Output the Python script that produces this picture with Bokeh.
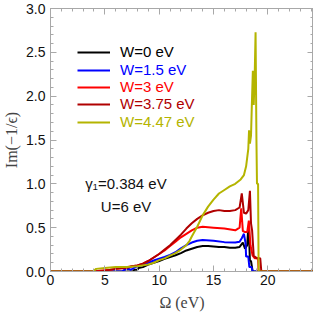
from bokeh.plotting import figure
from bokeh.models import (Range1d, LinearAxis, Legend, LegendItem, Label,
                          FixedTicker, NumeralTickFormatter)
from bokeh.embed import file_html
from bokeh.resources import INLINE

# ---- data ----
x_w0 = [0, 7.6, 7.7, 8.0, 8.1, 8.5, 9.0, 9.5, 10.0, 10.5, 11.0, 11.5, 12.0, 12.5, 13.0,
        13.5, 14.0, 14.5, 15.0, 15.5, 16.0, 16.5, 17.0, 17.4, 17.7, 17.9, 18.1, 18.2,
        18.3, 18.35, 18.45, 18.5, 18.6, 24.2]
y_w0 = [0, 0, 0.02, 0.02, 0.04, 0.05, 0.08, 0.10, 0.12, 0.145, 0.165, 0.185, 0.21, 0.24,
        0.26, 0.28, 0.29, 0.29, 0.285, 0.28, 0.28, 0.27, 0.27, 0.28, 0.33, 0.26, 0.30,
        0.51, 0.30, 0.12, 0.12, 0.08, 0, 0]

x_w15 = [0, 6.6, 6.8, 7.2, 7.4, 7.8, 8.5, 9.0, 9.5, 10.0, 10.5, 11.0, 11.5, 12.0, 12.5,
         13.0, 13.5, 14.0, 15.0, 16.0, 17.0, 17.4, 17.6, 17.8, 17.95, 18.0, 18.2, 18.3,
         18.5, 18.6, 24.2]
y_w15 = [0, 0, 0.02, 0.03, 0.02, 0.05, 0.08, 0.10, 0.125, 0.145, 0.165, 0.19, 0.22, 0.265,
         0.30, 0.33, 0.35, 0.36, 0.35, 0.335, 0.33, 0.34, 0.38, 0.43, 0.32, 0.17, 0.17,
         0.05, 0.05, 0, 0]

x_w3 = [0, 4.2, 4.5, 5.5, 6.0, 6.5, 7.0, 7.5, 8.0, 8.5, 9.0, 9.5, 10.0, 10.5, 11.0, 11.5,
        12.0, 12.5, 13.0, 13.5, 14.0, 15.0, 16.0, 17.0, 17.4, 17.55, 17.7, 17.9, 18.1,
        18.25, 18.4, 18.6, 18.8, 19.1, 19.15, 24.2]
y_w3 = [0, 0, 0.01, 0.02, 0.03, 0.04, 0.05, 0.06, 0.07, 0.09, 0.12, 0.16, 0.20, 0.24, 0.29,
        0.34, 0.39, 0.43, 0.47, 0.50, 0.51, 0.50, 0.49, 0.47, 0.50, 0.72, 0.46, 0.45,
        0.45, 0.58, 0.30, 0.18, 0.15, 0.15, 0, 0]

x_w375 = [0, 4.5, 5.0, 6.0, 7.0, 7.5, 8.0, 8.5, 9.0, 9.5, 10.0, 10.5, 11.0, 11.5, 12.0,
          12.5, 13.0, 13.5, 14.0, 14.5, 15.0, 15.5, 16.0, 16.5, 17.0, 17.4, 17.6, 17.8,
          18.0, 18.2, 18.35, 18.45, 18.55, 18.7, 19.0, 19.3, 19.4, 24.2]
y_w375 = [0, 0, 0.01, 0.03, 0.04, 0.06, 0.07, 0.09, 0.12, 0.16, 0.20, 0.25, 0.30, 0.36, 0.42,
          0.49, 0.55, 0.60, 0.64, 0.67, 0.69, 0.70, 0.69, 0.69, 0.70, 0.73, 0.89, 0.67,
          0.66, 0.70, 0.92, 0.55, 0.47, 0.18, 0.15, 0.15, 0, 0]

x_w447 = [0, 3.9, 4.2, 5.0, 6.0, 7.0, 8.0, 8.5, 9.0, 9.5, 10.0, 10.5, 11.0, 11.5, 12.0,
          12.5, 12.8, 13.0, 13.5, 14.0, 14.5, 15.0, 15.5, 16.0, 16.5, 17.0, 17.5, 17.8,
          18.0, 18.2, 18.27, 18.35, 18.45, 18.55, 18.62, 18.7, 18.8, 18.87, 18.95, 19.0,
          19.1, 19.15, 24.2]
y_w447 = [0, 0, 0.03, 0.04, 0.05, 0.05, 0.06, 0.07, 0.08, 0.10, 0.13, 0.15, 0.18, 0.21, 0.25,
          0.30, 0.35, 0.40, 0.51, 0.64, 0.74, 0.82, 0.89, 0.93, 0.97, 1.00, 1.05, 1.10,
          1.20, 1.40, 1.61, 1.46, 1.55, 2.00, 2.29, 1.90, 2.30, 2.73, 1.50, 1.00, 1.00,
          0, 0]

series_labels = ["W=0 eV", "W=1.5 eV", "W=3 eV", "W=3.75 eV", "W=4.47 eV"]
series_colors = ["#000000", "#0000ff", "#ff0000", "#b00000", "#b4b400"]
xs = [x_w0, x_w15, x_w3, x_w375, x_w447]
ys = [y_w0, y_w15, y_w3, y_w375, y_w447]

x_ticks = [0, 5, 10, 15, 20]
x_minor = list(range(0, 25))
y_ticks = [0.0, 0.5, 1.0, 1.5, 2.0, 2.5, 3.0]
y_minor = [i / 10 for i in range(0, 31)]

GRAY = "#a8a8a8"
p = figure(frame_width=263, frame_height=263, output_backend="svg",
           toolbar_location=None,
           x_range=Range1d(0, 24.2), y_range=Range1d(0, 3.0),
           min_border_left=42, min_border_right=0, min_border_top=8,
           min_border_bottom=45)
p.background_fill_color = "white"
p.border_fill_color = "white"
p.outline_line_color = GRAY
p.grid.visible = False

tick_font = "Liberation Sans"
for ax in [p.xaxis[0], p.yaxis[0]]:
    ax.axis_line_color = GRAY
    ax.major_tick_line_color = GRAY
    ax.minor_tick_line_color = GRAY
    ax.major_tick_in = 6
    ax.major_tick_out = 0
    ax.minor_tick_in = 3
    ax.minor_tick_out = 0
    ax.major_label_text_font = tick_font
    ax.major_label_text_font_size = "14px"
    ax.major_label_text_color = "#111111"
    ax.axis_label_text_font = "Liberation Serif"
    ax.axis_label_text_font_style = "normal"
    ax.axis_label_text_font_size = "16px"

p.xaxis[0].ticker = FixedTicker(ticks=x_ticks, minor_ticks=x_minor)
p.yaxis[0].ticker = FixedTicker(ticks=y_ticks, minor_ticks=y_minor)
p.yaxis[0].formatter = NumeralTickFormatter(format="0.0")
p.xaxis[0].axis_label = "Ω (eV)"
p.yaxis[0].axis_label = "Im(−1/ϵ)"
p.xaxis[0].major_label_standoff = 3
p.xaxis[0].axis_label_standoff = 6
p.yaxis[0].major_label_standoff = 5
p.yaxis[0].axis_label_standoff = 3

# mirrored ticks along the top and right (no labels)
blank_x = {t: "" for t in x_ticks}
blank_y = {t: "" for t in y_ticks}
top = LinearAxis(ticker=FixedTicker(ticks=x_ticks, minor_ticks=x_minor),
                 major_label_overrides=blank_x, axis_line_color=None,
                 major_tick_line_color=GRAY, minor_tick_line_color=GRAY,
                 major_tick_in=6, major_tick_out=0, minor_tick_in=3, minor_tick_out=0,
                 major_label_standoff=0, axis_label_standoff=0)
right = LinearAxis(ticker=FixedTicker(ticks=y_ticks, minor_ticks=y_minor),
                   major_label_overrides=blank_y, axis_line_color=None,
                   major_tick_line_color=GRAY, minor_tick_line_color=GRAY,
                   major_tick_in=6, major_tick_out=0, minor_tick_in=3, minor_tick_out=0,
                   major_label_standoff=0, axis_label_standoff=0)
p.add_layout(top, "above")
p.add_layout(right, "right")

renderers = []
for x, y, c in zip(xs, ys, series_colors):
    r = p.line(x, y, line_color=c, line_width=2)
    renderers.append(r)

# one legend per entry so each label can carry its own colour
legend_bottoms = [211, 193, 176, 159, 141]
for lab, c, r, yb in zip(series_labels, series_colors, renderers, legend_bottoms):
    lg = Legend(items=[LegendItem(label=lab, renderers=[r])], location=(27, yb),
                background_fill_alpha=0, border_line_color=None, padding=0, margin=0,
                spacing=0, glyph_width=33, glyph_height=16, label_height=16,
                label_standoff=10, label_text_font=tick_font,
                label_text_font_size="15px", label_text_color=c)
    lg.item_background_fill_alpha = 0
    p.add_layout(lg, "center")

p.add_layout(Label(x=6.95, y=1.0, text="γ₁=0.384 eV", text_align="center",
                   text_baseline="middle", text_font=tick_font,
                   text_font_size="15px", text_color="#111111"))
p.add_layout(Label(x=6.95, y=0.74, text="U=6 eV", text_align="center",
                   text_baseline="middle", text_font=tick_font,
                   text_font_size="15px", text_color="#111111"))

open("out.html", "w").write(file_html(p, INLINE))
